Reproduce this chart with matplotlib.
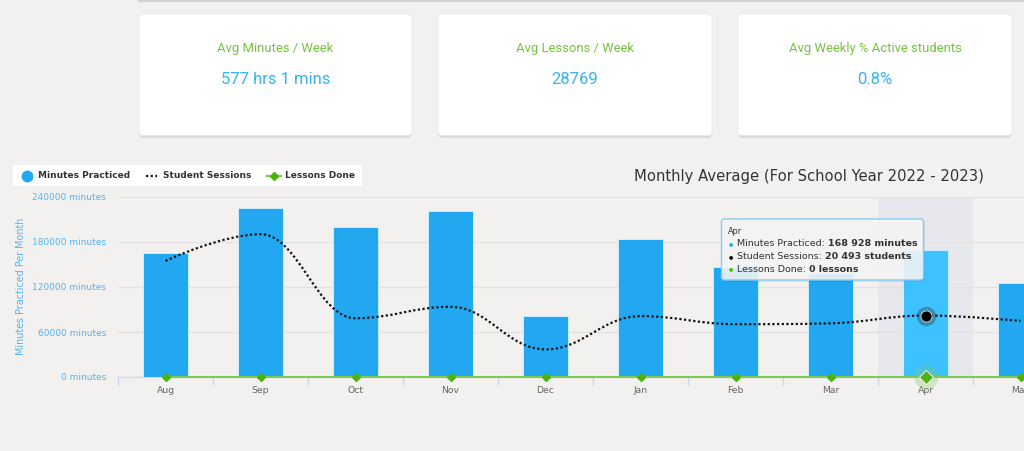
import matplotlib.pyplot as plt
from matplotlib.patches import FancyBboxPatch, PathPatch, Rectangle
from matplotlib.path import Path
from matplotlib.lines import Line2D

months = ['Aug', 'Sep', 'Oct', 'Nov', 'Dec', 'Jan', 'Feb', 'Mar', 'Apr', 'May']
minutes_practiced = [165300, 224900, 199600, 221700, 81800, 183500, 146200, 138200, 168928, 124900]
student_sessions = [38700, 47600, 19600, 23400, 9200, 20300, 17600, 17900, 20493, 18700]
lessons_done = [0, 0, 0, 0, 0, 0, 0, 0, 0, 0]
hover = 8

y_ticks = [0, 60000, 120000, 180000, 240000]
card_titles = ['Avg Minutes / Week', 'Avg Lessons / Week', 'Avg Weekly % Active students']
card_values = ['577 hrs 1 mins', '28769', '0.8%']
chart_title = 'Monthly Average (For School Year 2022 - 2023)'
legend_labels = ['Minutes Practiced', 'Student Sessions', 'Lessons Done']

BG = '#f2f1f0'
BLUE = '#21a8f1'
BLUE_HOVER = '#3ec1ff'
GREEN = '#7ccb50'
GREEN_DARK = '#4db30c'
LABEL_BLUE = '#52b4ee'

W, H = 1024, 451
plt.rcParams['font.family'] = ['DejaVu Sans']


def spline_path(xs, ys, smoothing=1.5):
    # courbe lissée façon Highcharts (bezier cubiques)
    n = len(xs)
    left, right = [None] * n, [None] * n
    for i in range(n):
        x, y = xs[i], ys[i]
        if i == 0 or i == n - 1:
            left[i] = right[i] = (x, y)
            continue
        lx, ly = xs[i - 1], ys[i - 1]
        nx, ny = xs[i + 1], ys[i + 1]
        d = smoothing + 1
        lcx, lcy = (smoothing * x + lx) / d, (smoothing * y + ly) / d
        rcx, rcy = (smoothing * x + nx) / d, (smoothing * y + ny) / d
        corr = (rcy - lcy) * (rcx - x) / (rcx - lcx) + y - rcy
        lcy += corr
        rcy += corr
        if lcy > ly and lcy > y:
            lcy = max(ly, y); rcy = 2 * y - lcy
        elif lcy < ly and lcy < y:
            lcy = min(ly, y); rcy = 2 * y - lcy
        if rcy > ny and rcy > y:
            rcy = max(ny, y); lcy = 2 * y - rcy
        elif rcy < ny and rcy < y:
            rcy = min(ny, y); lcy = 2 * y - rcy
        left[i], right[i] = (lcx, lcy), (rcx, rcy)
    verts = [(xs[0], ys[0])]
    codes = [Path.MOVETO]
    for i in range(1, n):
        verts += [right[i - 1], left[i], (xs[i], ys[i])]
        codes += [Path.CURVE4] * 3
    return Path(verts, codes)


def px_box(x0, y0, x1, y1, **kw):
    # boîte en pixels (origine en haut à gauche)
    return FancyBboxPatch((x0 / 100, (H - y1) / 100), (x1 - x0) / 100, (y1 - y0) / 100,
                          transform=fig.dpi_scale_trans, **kw)


fig = plt.figure(figsize=(W / 100, H / 100), dpi=100)
fig.patch.set_facecolor(BG)

# ligne grise en haut
fig.add_artist(Line2D([139 / W, 1], [1 - 0.6 / H, 1 - 0.6 / H], color='#d3d3d3', lw=1.6))

# cartes KPI
card_spans = [(139, 412), (438, 712), (738, 1012)]
for (x0, x1), t, v in zip(card_spans, card_titles, card_values):
    fig.add_artist(px_box(x0 + 0.5, 16, x1 - 0.5, 138, boxstyle='round,pad=0,rounding_size=0.04',
                          fc='#c8c8c8', ec='none', alpha=0.55, zorder=1))
    fig.add_artist(px_box(x0, 14, x1, 135.5, boxstyle='round,pad=0,rounding_size=0.04',
                          fc='white', ec='#e6e6e6', lw=0.5, zorder=2))
    cx = (x0 + x1) / 2 / W
    fig.text(cx, 1 - 48.5 / H, t, ha='center', va='center', fontsize=9.4,
             family='Roboto', color='#76c23f', zorder=3)
    fig.text(cx, 1 - 79 / H, v, ha='center', va='center', fontsize=12,
             family='Roboto', color='#35b5f0', zorder=3)

# graphique
ax = fig.add_axes([118 / W, 1 - 377 / H, 950 / W, 180 / H])
ax.set_facecolor('none')
x = list(range(len(months)))
ax.set_xlim(-0.5, len(months) - 0.5)
ax.set_ylim(0, 240000)

ax.axvspan(hover - 0.5, hover + 0.5, color='#e7e8ee', zorder=0.3, lw=0)
ax.set_axisbelow(True)
ax.yaxis.grid(True, color='#e3e2e1', lw=1)

colors = [BLUE_HOVER if i == hover else BLUE for i in x]
ax.bar(x, minutes_practiced, width=0.47, color=colors, edgecolor='#d8f0ff', lw=0.6, zorder=2)

ax.plot(x, lessons_done, color=GREEN, lw=1.5, marker='D', ms=4, mfc=GREEN_DARK,
        mec=GREEN_DARK, clip_on=False, zorder=5)
ax.plot(hover, lessons_done[hover], 'o', ms=17, color=GREEN, alpha=0.3, mew=0,
        clip_on=False, zorder=5)
ax.plot(hover, lessons_done[hover], 'D', ms=7.5, color=GREEN_DARK, mec='white', mew=0.6,
        clip_on=False, zorder=6)

for s in ['top', 'right', 'left']:
    ax.spines[s].set_visible(False)
ax.spines['bottom'].set_color('#ccd6eb')

ax.set_yticks(y_ticks)
ax.set_yticklabels([f'{v} minutes' for v in y_ticks], color=LABEL_BLUE, fontsize=6.5)
ax.tick_params(axis='y', length=0, pad=8.4)
ax.set_xticks(x)
ax.set_xticklabels(months, color='#666666', fontsize=6.7)
ax.set_xticks([i - 0.5 for i in range(len(months) + 1)], minor=True)
ax.tick_params(axis='x', which='major', length=0, pad=6.3)
ax.tick_params(axis='x', which='minor', length=6, color='#ccd6eb', width=1)

# séances élèves sur un axe secondaire caché
ax2 = ax.twinx()
ax2.set_ylim(0, 60000)
ax2.axis('off')
ax2.add_patch(PathPatch(spline_path(x, student_sessions), fill=False, color='#111111',
                        lw=1.6, linestyle=(0, (1, 1.1)), zorder=3))
ax2.plot(hover, student_sessions[hover], 'o', ms=14, color='#303030', alpha=0.35, mew=0, zorder=4)
ax2.plot(hover, student_sessions[hover], 'o', ms=8, color='black', mec='#dddddd', mew=0.6, zorder=4)

fig.text(21 / W, 1 - 286.5 / H, 'Minutes Practiced Per Month', rotation=90, ha='center',
         va='center', fontsize=6.9, color=LABEL_BLUE)
fig.text(809 / W, 1 - 176 / H, chart_title, ha='center', va='center', fontsize=10.6, color='#333333')

# légende
fig.add_artist(Rectangle((13 / W, 1 - 186 / H), 349 / W, 21 / H, transform=fig.transFigure,
                         fc='white', ec='none', zorder=5))
ly = 1 - 176 / H
fig.add_artist(Line2D([26.7 / W], [ly], marker='o', ms=7.5, color=BLUE, zorder=6))
fig.add_artist(Line2D([145.5 / W, 157 / W], [ly, ly], color='#111111', lw=1.6,
                      linestyle=(0, (1, 1.1)), zorder=6))
fig.add_artist(Line2D([266.5 / W, 280.5 / W], [ly, ly], color=GREEN, lw=1.6, zorder=6))
fig.add_artist(Line2D([273.5 / W], [ly], marker='D', ms=4, color=GREEN_DARK, zorder=6))
for lx, lab in zip([37.5, 163.3, 285], legend_labels):
    fig.text(lx / W, ly, lab, ha='left', va='center', fontsize=6.5, fontweight='bold',
             color='#333333', zorder=7)

# infobulle
fig.add_artist(px_box(723, 221, 925, 282, boxstyle='round,pad=0,rounding_size=0.03',
                      fc='#000000', ec='none', alpha=0.08, zorder=9))
fig.add_artist(px_box(721.5, 219, 923.5, 280, boxstyle='round,pad=0,rounding_size=0.03',
                      fc=(0.97, 0.97, 0.97, 0.88), ec='#86cbf3', lw=1, zorder=10))
fig.text(728 / W, 1 - 231.7 / H, months[hover], ha='left', va='center', fontsize=5.9,
         color='#333333', zorder=11)
renderer = fig.canvas.get_renderer()
rows = [
    (BLUE, 'Minutes Practiced: ', f'{minutes_practiced[hover]:,} minutes'),
    ('black', 'Student Sessions: ', f'{student_sessions[hover]:,} students'),
    (GREEN_DARK, 'Lessons Done: ', f'{lessons_done[hover]:,} lessons'),
]
for (c, lab, val), ry in zip(rows, [244, 256.7, 269]):
    yy = 1 - ry / H
    fig.text(731 / W, yy, '\u25cf', ha='center', va='center', fontsize=3.5, color=c, zorder=11)
    t = fig.text(736.7 / W, yy, lab, ha='left', va='center', fontsize=6.8,
                 color='#333333', zorder=11)
    x1 = t.get_window_extent(renderer).x1
    fig.text(x1 / W, yy, val.replace(',', ' '), ha='left', va='center', fontsize=6.8,
             fontweight='bold', color='#333333', zorder=11)

fig.savefig('out.png', dpi=100, facecolor=BG)
